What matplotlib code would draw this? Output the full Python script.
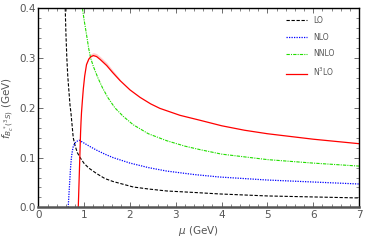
"""Decay constant of the B_c^* (3S) state versus the renormalisation scale mu."""

import matplotlib

matplotlib.use("Agg")

import matplotlib.pyplot as plt  # noqa: E402
from matplotlib.ticker import MultipleLocator  # noqa: E402

# Values (mu in GeV, f in GeV).
lo_mu = [0.585, 0.60, 0.62, 0.64, 0.66, 0.69, 0.71, 0.76, 0.80, 0.85, 0.91, 1.0,
         1.1, 1.27, 1.45, 1.63, 2.07, 2.4, 2.8, 3.4, 3.96, 5.0, 6.0, 7.0]
lo_f = [0.40, 0.35, 0.30, 0.265, 0.24, 0.205, 0.19, 0.14, 0.124, 0.11, 0.10, 0.088,
        0.079, 0.068, 0.058, 0.052, 0.041, 0.037, 0.033, 0.030, 0.027, 0.023, 0.021, 0.019]

nlo_mu = [0.65, 0.66, 0.67, 0.68, 0.69, 0.70, 0.72, 0.74, 0.76, 0.79, 0.82, 0.89,
          1.0, 1.13, 1.27, 1.45, 1.63, 2.0, 2.4, 2.8, 3.4, 3.96, 5.0, 6.0, 7.0]
nlo_f = [0.0, 0.016, 0.032, 0.047, 0.062, 0.078, 0.100, 0.113, 0.122, 0.128, 0.132, 0.135,
         0.129, 0.122, 0.115, 0.107, 0.100, 0.089, 0.080, 0.073, 0.066, 0.061, 0.055, 0.051, 0.047]

nnlo_mu = [0.96, 1.0, 1.05, 1.10, 1.14, 1.20, 1.30, 1.40, 1.52, 1.67, 1.85, 2.07,
           2.4, 2.8, 3.2, 3.53, 4.0, 5.0, 6.0, 7.0]
nnlo_f = [0.40, 0.375, 0.347, 0.318, 0.300, 0.283, 0.260, 0.240, 0.220, 0.200, 0.183, 0.166,
          0.148, 0.134, 0.123, 0.116, 0.107, 0.096, 0.089, 0.083]

n3lo_mu = [0.87, 0.88, 0.89, 0.90, 0.91, 0.92, 0.93, 0.94, 0.96, 0.98, 1.01, 1.05,
           1.10, 1.15, 1.20, 1.27, 1.35, 1.49, 1.62, 1.78, 2.0, 2.22, 2.45, 2.65,
           3.09, 3.53, 4.0, 4.5, 5.0, 6.0, 7.0]
n3lo_f = [0.0, 0.03, 0.06, 0.09, 0.12, 0.15, 0.172, 0.19, 0.215, 0.238, 0.264, 0.287,
          0.298, 0.303, 0.305, 0.303, 0.297, 0.285, 0.271, 0.255, 0.236, 0.221, 0.208, 0.199,
          0.185, 0.175, 0.164, 0.155, 0.148, 0.137, 0.128]

# Thin uncertainty band around the N3LO peak.
band_mu = [1.05, 1.10, 1.15, 1.20, 1.27, 1.35, 1.49, 1.62, 1.78]
band_low = [0.287, 0.298, 0.303, 0.305, 0.303, 0.297, 0.285, 0.271, 0.255]
band_high = [0.291, 0.303, 0.309, 0.311, 0.309, 0.303, 0.291, 0.276, 0.258]

legend_labels = ["LO", "NLO", "NNLO", r"N$^3$LO"]

_GREY = "#555555"

plt.rcParams["font.family"] = ["DejaVu Sans"]
plt.rcParams["mathtext.fontset"] = "dejavusans"

figure = plt.figure(figsize=(3.66, 2.44), dpi=100)
axis = figure.add_axes([0.105, 0.150, 0.876, 0.816])

axis.fill_between(band_mu, band_low, band_high, color="#ff9999", alpha=0.5, lw=0)
axis.plot(lo_mu, lo_f, color="black", lw=0.8, ls=(0, (3.0, 1.5)), label=legend_labels[0])
axis.plot(nlo_mu, nlo_f, color="blue", lw=0.9, ls=(0, (1.0, 1.0)), label=legend_labels[1])
axis.plot(nnlo_mu, nnlo_f, color="#22dd00", lw=0.8, ls=(0, (3.0, 1.0, 1.0, 1.0)),
          label=legend_labels[2])
axis.plot(n3lo_mu, n3lo_f, color="red", lw=0.9, label=legend_labels[3])

axis.set_xlim(0, 7)
axis.set_ylim(0, 0.4)
axis.xaxis.set_major_locator(MultipleLocator(1))
axis.xaxis.set_minor_locator(MultipleLocator(0.2))
axis.yaxis.set_major_locator(MultipleLocator(0.1))
axis.yaxis.set_minor_locator(MultipleLocator(0.02))
axis.set_yticks([0.0, 0.1, 0.2, 0.3, 0.4])
axis.set_yticklabels(["0.0", "0.1", "0.2", "0.3", "0.4"])

axis.tick_params(which="both", direction="in", top=True, right=True,
                 labelsize=7.5, labelcolor=_GREY, color=_GREY, pad=2)
axis.tick_params(which="major", length=3.5, width=0.6)
axis.tick_params(which="minor", length=2.0, width=0.5)

for side in ("top", "right", "left"):
    axis.spines[side].set_color("black")
    axis.spines[side].set_linewidth(1.0)
axis.spines["bottom"].set_color(_GREY)
axis.spines["bottom"].set_linewidth(1.8)

axis.set_xlabel(r"$\mu$ (GeV)", fontsize=7.5, color=_GREY, labelpad=3)
axis.set_ylabel(r"$f_{B_c^*({}^3S)}$ (GeV)", fontsize=7.5, color=_GREY, labelpad=2)

axis.legend(loc="upper right", bbox_to_anchor=(0.945, 0.995), frameon=False, fontsize=5.5,
            handlelength=2.8, handletextpad=0.8, labelspacing=1.0, labelcolor=_GREY)

figure.savefig("out.png", dpi=100)
